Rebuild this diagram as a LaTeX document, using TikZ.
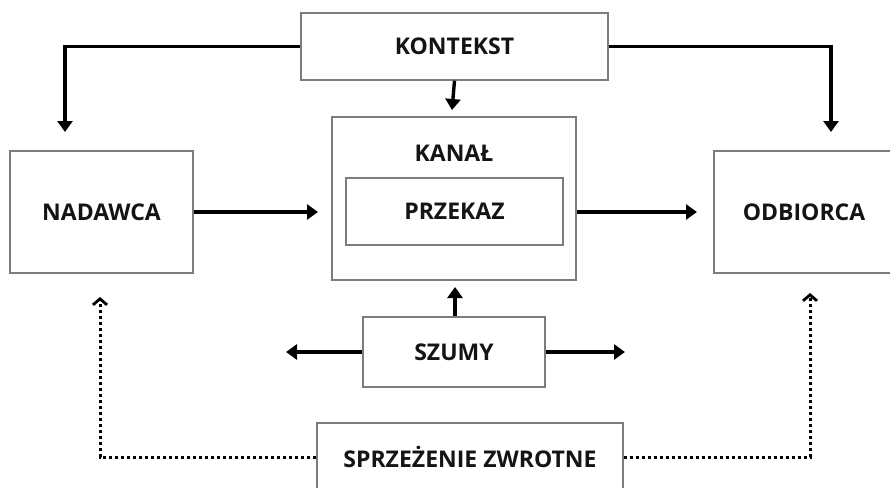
\documentclass[tikz,border=0pt]{standalone}
\usepackage{fontspec}
\setmainfont{Open Sans}
\usetikzlibrary{arrows.meta}
\definecolor{boxgray}{RGB}{125,125,125}
\definecolor{ink}{RGB}{20,20,20}
\begin{document}
\begin{tikzpicture}[x=1pt,y=-1pt,
  box/.style={draw=boxgray,line width=1.4pt,fill=white,inner sep=0pt,font=\fontsize{23}{27}\selectfont\bfseries,text=ink},
  arr/.style={draw=black,line width=3.4pt,-{Triangle[length=11pt,width=15pt]}},
  fb/.style={draw=black,line width=3pt,dash pattern=on 3pt off 3pt,-{Straight Barb[length=6pt,width=14pt,line width=2.8pt]}},
  lbl/.style={font=\fontsize{23}{27}\selectfont\bfseries,text=ink,inner sep=0pt}]
\useasboundingbox (0,0) rectangle (890,487);
% boxes
\node[box,minimum width=307pt,minimum height=67pt] (kontekst) at (454.5,46.5) {KONTEKST};
\node[box,minimum width=244pt,minimum height=163pt] (kanal) at (454,198.5) {};
\node[lbl] (kanallbl) at (454,153) {KANAŁ};
\node[box,minimum width=217pt,minimum height=67pt] (przekaz) at (454.5,211.5) {PRZEKAZ};
\node[box,minimum width=183pt,minimum height=122pt] (nadawca) at (101.5,212) {NADAWCA};
\node[box,minimum width=180pt,minimum height=122pt] (odbiorca) at (804,212) {ODBIORCA};
\node[box,minimum width=182pt,minimum height=70pt] (szumy) at (454,352) {SZUMY};
\node[box,minimum width=306pt,minimum height=68pt] (sprz) at (470,457) {SPRZEŻENIE ZWROTNE};
% free ends
\coordinate (klend) at (65,132);
\coordinate (krend) at (831,132);
\coordinate (kdend) at (452,110);
\coordinate (nend) at (318,212);
\coordinate (oend) at (697,212);
\coordinate (supend) at (455,287);
\coordinate (slend) at (286,352);
\coordinate (srend) at (625,352);
\coordinate (fbl) at (100,297);
\coordinate (fbr) at (810,293);
% connectors
\draw[arr] (kontekst.west) -| (klend);
\draw[arr] (kontekst.east) -| (krend);
\draw[arr] (kontekst.south) -- (kdend);
\draw[arr] (nadawca.east) -- (nend);
\draw[arr] (kanal.east |- oend) -- (oend);
\draw[arr] (szumy.north -| supend) -- (supend);
\draw[arr] (szumy.west) -- (slend);
\draw[arr] (szumy.east) -- (srend);
\draw[fb] (sprz.west) -| (fbl);
\draw[fb] (sprz.east) -| (fbr);
\end{tikzpicture}
\end{document}
